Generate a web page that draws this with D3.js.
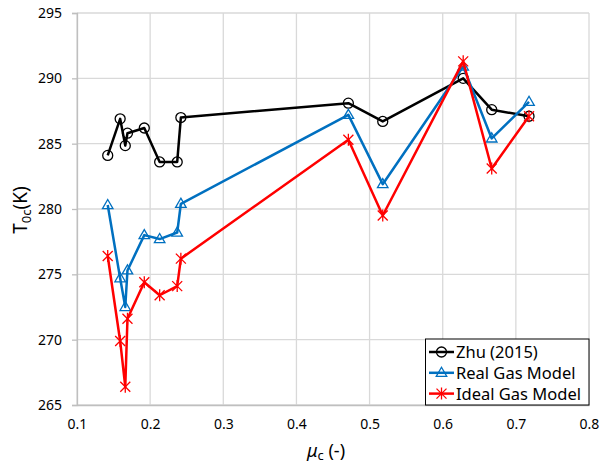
<!DOCTYPE html>
<html><head><meta charset="utf-8">
<script src="https://cdn.jsdelivr.net/npm/d3@7"></script>
<style>body{margin:0;background:#fff} text{font-family:"Noto Sans",sans-serif;fill:#000}</style>
</head><body><svg id="c" width="600" height="466"></svg>
<script>
const mu = [0.142, 0.159, 0.166, 0.169, 0.192, 0.213, 0.237, 0.242, 0.471, 0.518, 0.628, 0.667, 0.718];
const zhu = [284.1, 286.9, 284.85, 285.8, 286.2, 283.6, 283.6, 287.0, 288.1, 286.7, 290.0, 287.6, 287.1];
const realGas = [280.3, 274.7, 272.5, 275.3, 278.0, 277.7, 278.2, 280.4, 287.2, 281.9, 290.9, 285.4, 288.2];
const idealGas = [276.4, 269.9, 266.4, 271.6, 274.4, 273.4, 274.1, 276.2, 285.3, 279.5, 291.3, 283.1, 287.1];
const xTicks = [0.1, 0.2, 0.3, 0.4, 0.5, 0.6, 0.7, 0.8];
const yTicks = [265, 270, 275, 280, 285, 290, 295];
const seriesNames = ["Zhu (2015)", "Real Gas Model", "Ideal Gas Model"];

const svg = d3.select("#c");
const L = 77, R = 589, T = 13, B = 405;
const x = d3.scaleLinear().domain([0.1, 0.8]).range([L, R]);
const y = d3.scaleLinear().domain([265, 295]).range([B, T]);

// grid
const grid = svg.append("g");
grid.selectAll(".gx").data(xTicks).join("line")
  .attr("x1", d => x(d)).attr("x2", d => x(d)).attr("y1", T).attr("y2", B)
  .attr("stroke", "#d9d9d9").attr("stroke-width", 1.3);
grid.selectAll(".gy").data(yTicks).join("line")
  .attr("x1", L).attr("x2", R).attr("y1", d => y(d)).attr("y2", d => y(d))
  .attr("stroke", "#d9d9d9").attr("stroke-width", 1.3);

// axes
const yAxis = d3.axisLeft(y).tickValues(yTicks).tickFormat(d3.format("d")).tickSize(5).tickPadding(10);
const gy = svg.append("g").attr("transform", `translate(${L},0)`).call(yAxis);
gy.select(".domain").attr("stroke", "#bfbfbf").attr("stroke-width", 1.3);
gy.selectAll(".tick line").attr("stroke", "#bfbfbf").attr("stroke-width", 1.3);
gy.selectAll(".tick text").attr("font-size", 14).attr("font-family", "Noto Sans").attr("fill", "#000");

const xAxis = d3.axisBottom(x).tickValues(xTicks).tickFormat(d3.format(".1f")).tickSize(0).tickPadding(14);
const gx = svg.append("g").attr("transform", `translate(0,${B})`).call(xAxis);
gx.select(".domain").attr("stroke", "#bfbfbf").attr("stroke-width", 1.3);
gx.selectAll(".tick text").attr("font-size", 14).attr("font-family", "Noto Sans").attr("fill", "#000");

// axis titles
const yt = svg.append("text").attr("transform", "translate(27,210) rotate(-90)")
  .attr("text-anchor", "middle").attr("font-size", 19);
yt.append("tspan").text("T");
yt.append("tspan").text("0c").attr("font-size", 13).attr("dy", 4);
yt.append("tspan").text("(K)").attr("dy", -4);

const xt = svg.append("text").attr("x", 326).attr("y", 457).attr("text-anchor", "middle").attr("font-size", 18);
xt.append("tspan").text("μ").attr("font-style", "italic");
xt.append("tspan").text("c").attr("font-size", 13).attr("dy", 3);
xt.append("tspan").text(" (-)").attr("dy", -3);

// markers
function circleM(g, cx, cy, color) {
  g.append("circle").attr("cx", cx).attr("cy", cy).attr("r", 5)
    .attr("fill", "none").attr("stroke", color).attr("stroke-width", 1.3);
}
const tri = d3.symbol().type(d3.symbolTriangle).size(48);
function triM(g, cx, cy, color) {
  g.append("path").attr("d", tri()).attr("transform", `translate(${cx},${cy+0.5})`)
    .attr("fill", "none").attr("stroke", color).attr("stroke-width", 1.3);
}
function starM(g, cx, cy, color) {
  const s = 5;
  g.append("path").attr("d", `M${cx-s},${cy-s}L${cx+s},${cy+s}M${cx-s},${cy+s}L${cx+s},${cy-s}M${cx},${cy-s-1}L${cx},${cy+s+1}`)
    .attr("fill", "none").attr("stroke", color).attr("stroke-width", 1.3);
}

const series = [
  {vals: zhu, color: "#000000", m: circleM},
  {vals: realGas, color: "#0070C0", m: triM},
  {vals: idealGas, color: "#FF0000", m: starM}
];
const line = d3.line().x(d => x(d[0])).y(d => y(d[1]));
series.forEach(s => {
  const pts = mu.map((m, i) => [m, s.vals[i]]);
  const g = svg.append("g");
  g.append("path").attr("d", line(pts)).attr("fill", "none").attr("stroke", s.color)
    .attr("stroke-width", 2.5).attr("stroke-linejoin", "round");
  pts.forEach(p => s.m(g, x(p[0]), y(p[1]), s.color));
});

// legend
const lg = svg.append("g");
lg.append("rect").attr("x", 425.5).attr("y", 339).attr("width", 163.5).attr("height", 66)
  .attr("fill", "#fff").attr("stroke", "#000").attr("stroke-width", 1);
series.forEach((s, i) => {
  const cy = 352 + i * 20.8;
  lg.append("line").attr("x1", 429).attr("x2", 454).attr("y1", cy).attr("y2", cy)
    .attr("stroke", s.color).attr("stroke-width", 2.5);
  s.m(lg, 441.5, cy, s.color);
  lg.append("text").attr("x", 456).attr("y", cy + 6).attr("font-size", 16.5).text(seriesNames[i]);
});
</script></body></html>
